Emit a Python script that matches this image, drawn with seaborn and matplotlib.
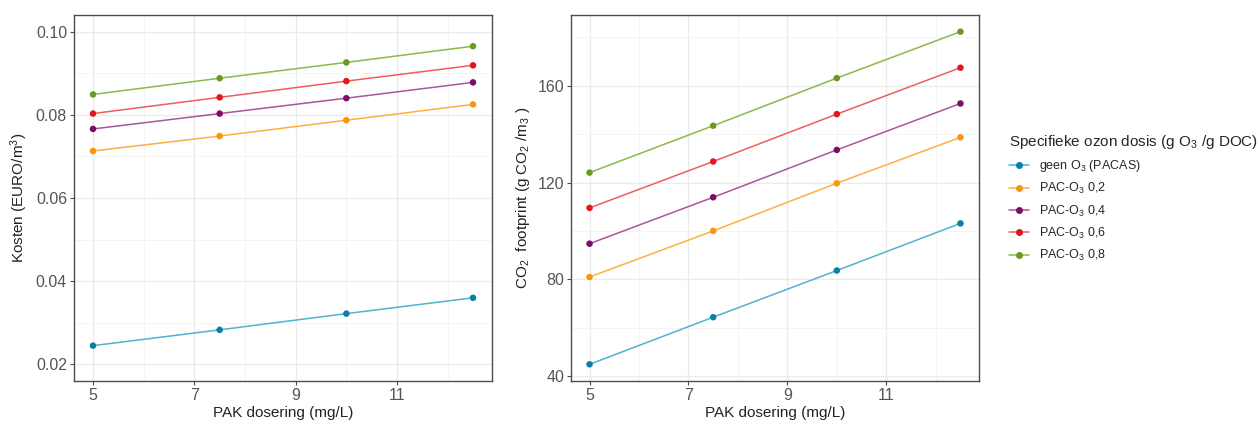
import numpy as np
import pandas as pd
import matplotlib
matplotlib.use("Agg")
import matplotlib.pyplot as plt
from matplotlib.lines import Line2D
from matplotlib.ticker import FixedLocator
import seaborn as sns

# ---- data ----
dose = [5, 7.5, 10, 12.5]
series = ["geen O$_3$ (PACAS)", "PAC-O$_3$ 0,2", "PAC-O$_3$ 0,4", "PAC-O$_3$ 0,6", "PAC-O$_3$ 0,8"]
cost_geen = [0.0245, 0.0283, 0.0322, 0.0360]
cost_02 = [0.0713, 0.0749, 0.0787, 0.0825]
cost_04 = [0.0766, 0.0803, 0.0840, 0.0878]
cost_06 = [0.0803, 0.0842, 0.0881, 0.0919]
cost_08 = [0.0849, 0.0888, 0.0926, 0.0965]
co2_geen = [44.8, 64.3, 83.6, 103.1]
co2_02 = [80.9, 100.0, 119.7, 138.7]
co2_04 = [94.7, 113.9, 133.5, 152.7]
co2_06 = [109.5, 128.7, 148.3, 167.5]
co2_08 = [124.1, 143.5, 163.2, 182.4]

line_cols = ["#4FB3D1", "#FBB040", "#A8579C", "#F25C5C", "#8DB84A"]
point_cols = ["#0C7FA6", "#F7960F", "#7A0E6A", "#E3161B", "#6B9A1F"]

costs = [cost_geen, cost_02, cost_04, cost_06, cost_08]
co2s = [co2_geen, co2_02, co2_04, co2_06, co2_08]
rows = []
for s, c, g in zip(series, costs, co2s):
    for d, cv, gv in zip(dose, c, g):
        rows.append({"dose": d, "serie": s, "cost": cv, "co2": gv})
df = pd.DataFrame(rows)

sns.set_theme(style="white")
plt.rcParams["font.family"] = ["Liberation Sans", "DejaVu Sans"]
plt.rcParams["mathtext.fontset"] = "custom"
plt.rcParams["mathtext.rm"] = "Liberation Sans"
plt.rcParams["mathtext.it"] = "Liberation Sans:italic"
plt.rcParams["mathtext.bf"] = "Liberation Sans:bold"

fig = plt.figure(figsize=(12.58, 4.25), dpi=100)
ax1 = fig.add_axes([74/1258, 44/425, 418/1258, 366/425])
ax2 = fig.add_axes([571/1258, 44/425, 408/1258, 366/425])

lpal = dict(zip(series, line_cols))
ppal = dict(zip(series, point_cols))

for ax, col in [(ax1, "cost"), (ax2, "co2")]:
    sns.lineplot(data=df, x="dose", y=col, hue="serie", palette=lpal, ax=ax,
                 linewidth=1.1, legend=False, zorder=3)
    sns.scatterplot(data=df, x="dose", y=col, hue="serie", palette=ppal, ax=ax,
                    s=22, linewidth=0, legend=False, zorder=4)
    ax.set_xlim(4.625, 12.875)
    ax.xaxis.set_major_locator(FixedLocator([5, 7, 9, 11]))
    ax.xaxis.set_minor_locator(FixedLocator([6, 8, 10, 12]))
    ax.grid(True, which="major", color="#EBEBEB", linewidth=1.0, zorder=0)
    ax.grid(True, which="minor", color="#F2F2F2", linewidth=0.6, zorder=0)
    ax.set_axisbelow(True)
    for sp in ax.spines.values():
        sp.set_color("#4D4D4D")
        sp.set_linewidth(1.0)
    ax.tick_params(axis="both", which="major", direction="out", length=3, width=0.8,
                   color="#4D4D4D", labelcolor="#555555", labelsize=11.5, pad=2,
                   bottom=True, left=True)
    ax.tick_params(axis="both", which="minor", length=0)
    ax.set_xlabel("PAK dosering (mg/L)", fontsize=11, color="#222222", labelpad=2)

ax1.set_ylim(0.016, 0.104)
ax1.yaxis.set_major_locator(FixedLocator([0.02, 0.04, 0.06, 0.08, 0.10]))
ax1.yaxis.set_minor_locator(FixedLocator([0.03, 0.05, 0.07, 0.09]))
ax1.set_yticklabels(["0.02", "0.04", "0.06", "0.08", "0.10"])
ax1.set_ylabel("Kosten (EURO/m$^3$)", fontsize=11, color="#222222", labelpad=4)

ax2.set_ylim(37.9, 189.3)
ax2.yaxis.set_major_locator(FixedLocator([40, 80, 120, 160]))
ax2.yaxis.set_minor_locator(FixedLocator([60, 100, 140, 180]))
ax2.set_ylabel("CO$_2$  footprint (g CO$_2$ /m$_3$ )", fontsize=11, color="#222222", labelpad=4)

handles = [Line2D([0], [0], color=lc, lw=1.1, marker="o", markersize=4,
                  markerfacecolor=pc, markeredgecolor=pc)
           for lc, pc in zip(line_cols, point_cols)]
leg = fig.legend(handles, series, loc="upper left", bbox_to_anchor=(1004/1258, 1 - 128/425),
                 frameon=False, fontsize=9, title="Specifieke ozon dosis (g O$_3$ /g DOC)",
                 title_fontsize=11, handlelength=1.6, labelspacing=0.57, alignment="left",
                 borderaxespad=0, handletextpad=0.8)

fig.savefig("out.png", dpi=100)
